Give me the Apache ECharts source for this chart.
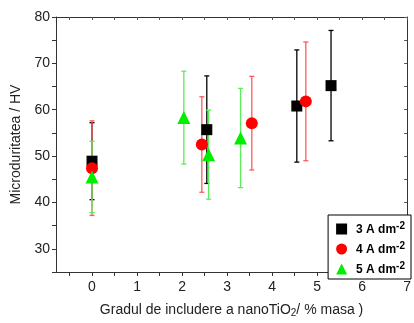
<!DOCTYPE html>
<html><head><meta charset="utf-8">
<script src="https://cdn.jsdelivr.net/npm/echarts@6/dist/echarts.min.js"></script>
<style>html,body{margin:0;padding:0;background:#fff}#c{width:414px;height:323px}</style>
</head><body><div id="c"></div>
<script>
const xTickLabels = [0,1,2,3,4,5,6,7];
const xMinorTicks = [-0.5,0,0.5,1,1.5,2,2.5,3,3.5,4,4.5,5,5.5,6,6.5,7];
const yTickLabels = [30,40,50,60,70,80];
const yMinorTicks = [25,30,35,40,45,50,55,60,65,70,75,80];

const s3x = [0, 2.55, 4.55, 5.31];
const s3y = [48.9, 55.7, 60.8, 65.2];
const s3err = [8.3, 11.6, 12.1, 11.9];

const s4x = [0, 2.44, 3.55, 4.75];
const s4y = [47.4, 52.5, 57.1, 61.8];
const s4err = [10.2, 10.3, 10.1, 12.8];

const s5x = [0, 2.04, 2.59, 3.30];
const s5y = [45.5, 58.3, 50.3, 53.9];
const s5err = [7.7, 10.0, 9.6, 10.7];

const names = ['3 A dm', '4 A dm', '5 A dm'];

function pts(xs, ys){ return xs.map((x,i)=>[x, ys[i]]); }
function errs(xs, ys, es){ return xs.map((x,i)=>[x, ys[i]-es[i], ys[i]+es[i]]); }

function errSeries(data, color){
  return {
    type:'custom', z:1, silent:true,
    data: data,
    renderItem: function(params, api){
      const lo = api.coord([api.value(0), api.value(1)]);
      const hi = api.coord([api.value(0), api.value(2)]);
      const w = 2.5;
      const st = {stroke: color, lineWidth: 1.3};
      return {type:'group', children:[
        {type:'line', shape:{x1:lo[0], y1:lo[1], x2:hi[0], y2:hi[1]}, style:st},
        {type:'line', shape:{x1:lo[0]-w, y1:lo[1], x2:lo[0]+w, y2:lo[1]}, style:st},
        {type:'line', shape:{x1:hi[0]-w, y1:hi[1], x2:hi[0]+w, y2:hi[1]}, style:st}
      ]};
    }
  };
}

const font = 'Liberation Sans, Arial, sans-serif';
const chart = echarts.init(document.getElementById('c'), null, {renderer:'canvas'});
const legendRich = {
  b:{fontFamily:font, fontWeight:'bold', fontSize:12, color:'#000'},
  sup:{fontFamily:font, fontWeight:'bold', fontSize:10, color:'#000', verticalAlign:'top', padding:[0,0,8,0]}
};
chart.setOption({
  animation:false,
  grid:{left:56, right:3, top:17, bottom:44, containLabel:false},
  xAxis:[{
    type:'value', min:-0.8, max:7, position:'bottom',
    axisLine:{show:true, onZero:false, lineStyle:{color:'#333', width:1}},
    axisTick:{show:true, inside:false, length:4, customValues:xMinorTicks, lineStyle:{color:'#333'}},
    axisLabel:{customValues:xTickLabels, fontFamily:font, fontSize:14, color:'#222', margin:8},
    splitLine:{show:false},
    name:'Gradul de includere a nanoTiO{sub|2}/ % masa )',
    nameLocation:'middle', nameGap:30,
    nameTextStyle:{fontFamily:font, fontSize:14, color:'#222',
      rich:{sub:{fontFamily:font, fontSize:10, color:'#222', verticalAlign:'bottom', padding:[6,0,0,0]}}}
  },{
    type:'value', min:-0.8, max:7, position:'top',
    axisLine:{show:true, onZero:false, lineStyle:{color:'#333'}},
    axisTick:{show:true, inside:true, length:3, customValues:xMinorTicks, lineStyle:{color:'#555'}},
    axisLabel:{show:false}, splitLine:{show:false}
  }],
  yAxis:[{
    type:'value', min:25, max:80, position:'left',
    axisLine:{show:true, onZero:false, lineStyle:{color:'#333'}},
    axisTick:{show:true, inside:false, length:4, customValues:yMinorTicks, lineStyle:{color:'#333'}},
    axisLabel:{customValues:yTickLabels, fontFamily:font, fontSize:14, color:'#222', margin:6},
    splitLine:{show:false},
    name:'Microduritatea / HV', nameLocation:'middle', nameGap:33,
    nameTextStyle:{fontFamily:font, fontSize:14, color:'#222'}
  },{
    type:'value', min:25, max:80, position:'right',
    axisLine:{show:true, onZero:false, lineStyle:{color:'#333'}},
    axisTick:{show:true, inside:true, length:3, customValues:yMinorTicks, lineStyle:{color:'#555'}},
    axisLabel:{show:false}, splitLine:{show:false}
  }],
  legend:{
    orient:'vertical', right:3, bottom:44,
    backgroundColor:'#fff', borderColor:'#000', borderWidth:1,
    padding:[6,6,3,8], itemGap:5, itemWidth:11, itemHeight:11,
    data:[{name:names[0], icon:'rect'},{name:names[1], icon:'circle'},{name:names[2], icon:'triangle'}],
    formatter: n => '{b|' + n + '}{sup|-2}',
    textStyle:{rich:legendRich, padding:[2,0,0,4]}
  },
  series:[
    errSeries(errs(s3x,s3y,s3err), '#000'),
    errSeries(errs(s4x,s4y,s4err), '#ff5a5a'),
    errSeries(errs(s5x,s5y,s5err), '#5aec5a'),
    {name:names[0], type:'scatter', z:3, symbol:'rect', symbolSize:11, data:pts(s3x,s3y), itemStyle:{color:'#000', opacity:1}},
    {name:names[1], type:'scatter', z:4, symbol:'circle', symbolSize:12, data:pts(s4x,s4y), itemStyle:{color:'#ff0000', opacity:1}},
    {name:names[2], type:'scatter', z:5, symbol:'triangle', symbolSize:13, data:pts(s5x,s5y), itemStyle:{color:'#00ee00', opacity:1}}
  ]
});
</script></body></html>
